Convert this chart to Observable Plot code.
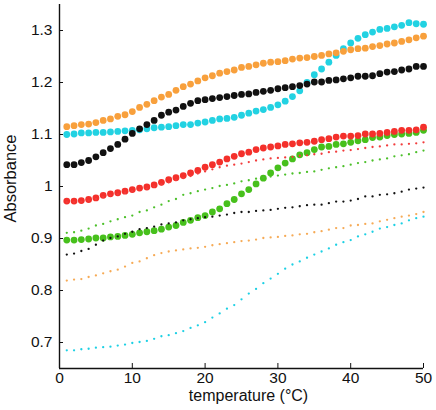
<!DOCTYPE html>
<html>
<head>
<meta charset="utf-8">
<script src="https://cdn.jsdelivr.net/npm/d3@7"></script>
<script src="https://cdn.jsdelivr.net/npm/@observablehq/plot@0.6"></script>
<style>
  html, body { margin: 0; padding: 0; background: #fff; }
  #chart { width: 436px; height: 410px; }
</style>
</head>
<body>
<div id="chart"></div>
<script>
const temps = [1,2,3,4,5,6,7,8,9,10,11,12,13,14,15,16,17,18,19,20,21,22,23,24,25,26,27,28,29,30,31,32,33,34,35,36,37,38,39,40,41,42,43,44,45,46,47,48,49,50];

// large dots
const orangeBig = [1.115,1.117,1.119,1.120,1.123,1.127,1.130,1.135,1.138,1.144,1.152,1.158,1.165,1.172,1.177,1.185,1.192,1.197,1.203,1.209,1.213,1.218,1.221,1.224,1.229,1.231,1.234,1.237,1.239,1.240,1.242,1.245,1.247,1.248,1.250,1.252,1.255,1.257,1.260,1.263,1.265,1.266,1.269,1.271,1.274,1.276,1.279,1.282,1.286,1.289];
const cyanBig = [1.100,1.101,1.103,1.103,1.104,1.104,1.105,1.106,1.107,1.108,1.109,1.111,1.113,1.114,1.115,1.117,1.119,1.119,1.122,1.124,1.127,1.130,1.131,1.133,1.137,1.141,1.145,1.148,1.152,1.157,1.164,1.173,1.184,1.200,1.215,1.226,1.239,1.252,1.265,1.276,1.285,1.292,1.297,1.302,1.304,1.307,1.310,1.315,1.313,1.312];
const blackBig = [1.042,1.042,1.046,1.050,1.057,1.065,1.073,1.081,1.091,1.102,1.111,1.119,1.127,1.137,1.143,1.147,1.154,1.160,1.165,1.167,1.169,1.171,1.173,1.175,1.177,1.178,1.181,1.183,1.185,1.188,1.190,1.192,1.194,1.197,1.201,1.201,1.204,1.205,1.207,1.209,1.212,1.212,1.213,1.217,1.220,1.221,1.224,1.226,1.231,1.231];
const redBig = [0.972,0.972,0.973,0.975,0.978,0.983,0.986,0.988,0.991,0.994,0.997,0.999,1.003,1.008,1.013,1.017,1.021,1.026,1.031,1.037,1.042,1.047,1.053,1.058,1.063,1.066,1.071,1.074,1.076,1.078,1.081,1.082,1.084,1.085,1.087,1.090,1.092,1.095,1.097,1.097,1.098,1.101,1.101,1.102,1.104,1.106,1.108,1.108,1.109,1.114];
const greenBig = [0.897,0.897,0.898,0.899,0.901,0.901,0.903,0.904,0.906,0.908,0.911,0.913,0.915,0.918,0.922,0.925,0.931,0.935,0.940,0.944,0.951,0.957,0.967,0.975,0.986,0.994,1.005,1.016,1.026,1.036,1.045,1.053,1.061,1.065,1.071,1.076,1.077,1.081,1.082,1.085,1.088,1.090,1.094,1.095,1.098,1.100,1.101,1.102,1.104,1.108];

// small dots
const greenSmall = [0.911,0.912,0.915,0.919,0.925,0.928,0.933,0.937,0.941,0.944,0.951,0.954,0.960,0.965,0.972,0.976,0.984,0.987,0.991,0.994,0.997,1.001,1.003,1.006,1.010,1.012,1.015,1.017,1.019,1.021,1.023,1.025,1.026,1.028,1.029,1.032,1.035,1.037,1.039,1.042,1.045,1.047,1.050,1.052,1.054,1.058,1.060,1.062,1.066,1.069];
const redSmall = [0.970,0.970,0.971,0.973,0.976,0.980,0.983,0.985,0.988,0.991,0.994,0.996,1.000,1.004,1.008,1.012,1.016,1.020,1.025,1.029,1.033,1.037,1.040,1.042,1.044,1.047,1.050,1.052,1.054,1.055,1.056,1.057,1.059,1.060,1.062,1.063,1.066,1.067,1.069,1.070,1.072,1.074,1.076,1.077,1.079,1.081,1.081,1.082,1.083,1.085];
const blackSmall = [0.869,0.871,0.876,0.880,0.888,0.896,0.901,0.904,0.909,0.913,0.918,0.920,0.923,0.927,0.929,0.931,0.935,0.937,0.939,0.941,0.942,0.944,0.946,0.949,0.951,0.951,0.953,0.954,0.955,0.957,0.959,0.960,0.962,0.964,0.965,0.965,0.968,0.971,0.971,0.973,0.976,0.981,0.981,0.984,0.985,0.987,0.990,0.994,0.996,0.998];
const orangeSmall = [0.819,0.821,0.822,0.826,0.829,0.833,0.837,0.840,0.846,0.853,0.856,0.862,0.868,0.872,0.875,0.877,0.879,0.881,0.882,0.884,0.887,0.889,0.891,0.893,0.895,0.896,0.898,0.901,0.902,0.903,0.905,0.906,0.908,0.909,0.912,0.914,0.917,0.920,0.920,0.925,0.926,0.928,0.929,0.933,0.936,0.939,0.942,0.944,0.947,0.951];
const cyanSmall = [0.685,0.685,0.687,0.688,0.690,0.691,0.692,0.694,0.696,0.699,0.701,0.703,0.707,0.712,0.714,0.718,0.722,0.728,0.733,0.739,0.748,0.756,0.765,0.772,0.783,0.794,0.803,0.814,0.823,0.832,0.842,0.850,0.856,0.863,0.869,0.875,0.881,0.888,0.893,0.897,0.904,0.908,0.913,0.919,0.922,0.926,0.929,0.935,0.939,0.942];

const xTicks = [0, 10, 20, 30, 40, 50];
const yTicks = [0.7, 0.8, 0.9, 1.0, 1.1, 1.2, 1.3];
const xLabel = "temperature (°C)";
const yLabel = "Absorbance";

const bigSeries = [
  {values: greenBig, color: "#47c01c"},
  {values: redBig, color: "#f4302b"},
  {values: cyanBig, color: "#22d2e2"},
  {values: blackBig, color: "#111111"},
  {values: orangeBig, color: "#f8a03c"}
];
const smallSeries = [
  {values: greenSmall, color: "#4cc02a"},
  {values: redSmall, color: "#f23c3c"},
  {values: blackSmall, color: "#111111"},
  {values: orangeSmall, color: "#f6aa55"},
  {values: cyanSmall, color: "#1cd0e4"}
];
const toRows = s => temps.map((t, i) => ({t, v: s.values[i]}));

const fmt = d => String(+d.toFixed(1));

const marks = [];
for (const s of bigSeries) {
  marks.push(Plot.dot(toRows(s), {x: "t", y: "v", r: 3.4, fill: s.color, stroke: "none"}));
}
for (const s of smallSeries) {
  marks.push(Plot.dot(toRows(s), {x: "t", y: "v", r: 1.15, fill: s.color, stroke: "none"}));
}
marks.push(
  Plot.ruleX([0], {stroke: "#111", strokeWidth: 1.4}),
  Plot.ruleY([0.65], {stroke: "#111", strokeWidth: 1.4}),
  Plot.axisY({ticks: yTicks, tickFormat: fmt, tickSize: -4, tickPadding: 11, label: null, fontSize: 15.5, fill: "#111"}),
  Plot.axisX({ticks: xTicks, tickSize: -5, tickPadding: 8, label: null, fontSize: 15.5, fill: "#111"}),
  Plot.text([yLabel], {frameAnchor: "left", textAnchor: "middle", dx: -49, dy: -8, rotate: -90, fontSize: 16.5, fill: "#111"}),
  Plot.text([xLabel], {frameAnchor: "bottom", textAnchor: "middle", dx: 7, dy: 32, fontSize: 16, fill: "#111"})
);

const chart = Plot.plot({
  width: 436,
  height: 410,
  marginLeft: 59,
  marginRight: 13,
  marginTop: 4,
  marginBottom: 42,
  style: {fontFamily: "'Liberation Sans', Arial, Helvetica, sans-serif", fontSize: "15.5px", color: "#111", background: "#fff"},
  x: {domain: [0, 50]},
  y: {domain: [0.65, 1.35]},
  marks
});
document.getElementById("chart").appendChild(chart);
</script>
</body>
</html>
